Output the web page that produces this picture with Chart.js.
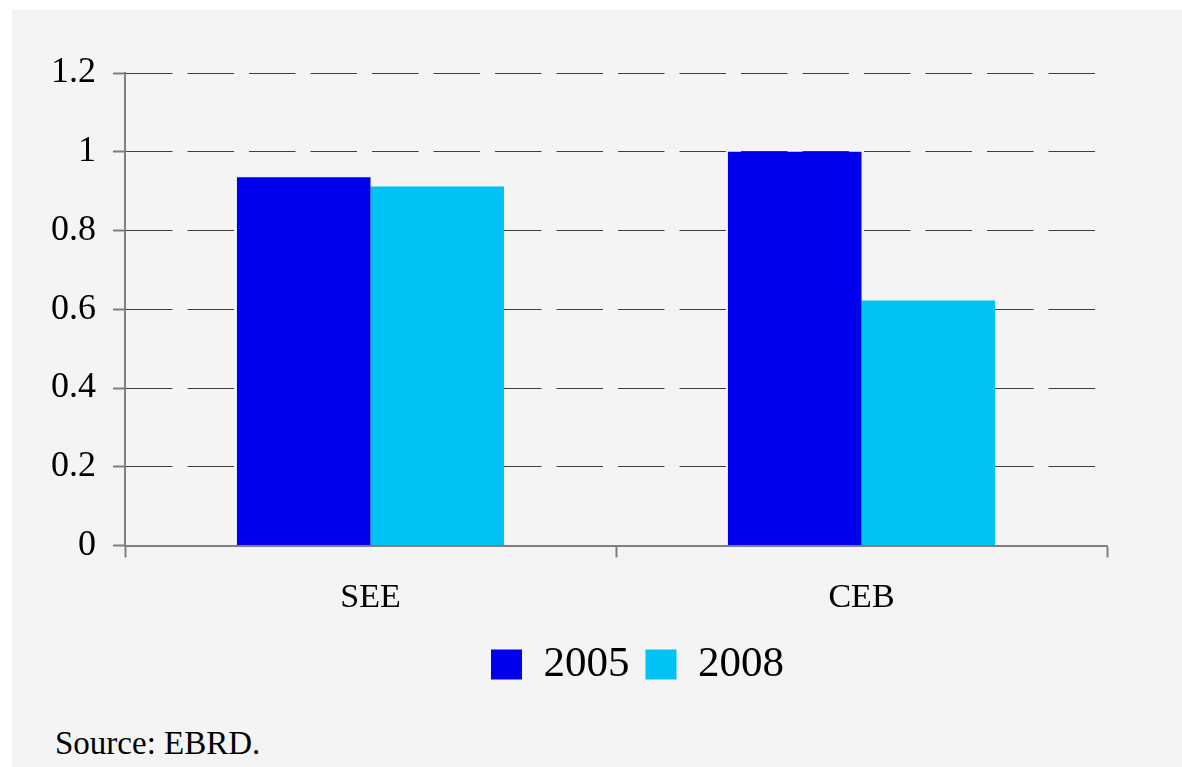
<!DOCTYPE html>
<html>
<head>
<meta charset="utf-8">
<script src="https://cdn.jsdelivr.net/npm/chart.js@4"></script>
<style>
    body { margin: 0; background: #ffffff; }
    .panel { position: absolute; left: 12px; top: 10px; width: 1170px; height: 757px; background: #f4f4f4; }
    .chart-box { position: absolute; left: 0; top: 0; width: 1170px; height: 686px; }
    .source { position: absolute; left: 43px; top: 717px; font: 33px 'Liberation Serif', 'Times New Roman', serif; line-height: 33px; color: #000; }
</style>
</head>
<body>
<div class="panel">
    <div class="chart-box"><canvas id="regionChart"></canvas></div>
    <div class="source">Source: EBRD.</div>
</div>
<script>
const regions = ['SEE', 'CEB']
const values2005 = [0.935, 1.0]
const values2008 = [0.912, 0.622]
const yTickLabels = ['0', '0.2', '0.4', '0.6', '0.8', '1', '1.2']

const serif = "'Liberation Serif', 'Times New Roman', serif"

// move the legend row so it sits under the middle of the plot like the original
const legendShift = {
    id: 'legendShift',
    afterLayout(chart) {
        chart.legend.left += 78
        chart.legend.right += 78
    }
}

const ctx = document.getElementById('regionChart').getContext('2d')
new Chart(ctx, {
    type: 'bar',
    data: {
        labels: regions,
        datasets: [
            { label: '2005', data: values2005, backgroundColor: '#0000ee', borderWidth: 0 },
            { label: '2008', data: values2008, backgroundColor: '#00c2f5', borderWidth: 0 }
        ]
    },
    options: {
        responsive: true,
        maintainAspectRatio: false,
        animation: false,
        categoryPercentage: 0.544,
        barPercentage: 1,
        layout: { padding: { top: 63, right: 75, left: 0, bottom: 0 } },
        plugins: {
            tooltip: { enabled: false },
            legend: {
                position: 'bottom',
                labels: {
                    boxWidth: 31,
                    boxHeight: 30,
                    padding: 16,
                    color: '#000',
                    font: { family: serif, size: 43 }
                }
            }
        },
        scales: {
            x: {
                afterFit: (scale) => { scale.height = 81.5 },
                grid: {
                    drawOnChartArea: false,
                    tickLength: 12,
                    tickColor: '#7f7f7f',
                    tickWidth: 2
                },
                border: { color: '#7f7f7f', width: 2 },
                ticks: { color: '#000', padding: 20, font: { family: serif, size: 34 } }
            },
            y: {
                min: 0,
                max: 1.2,
                afterFit: (scale) => { scale.width = 113 },
                grid: {
                    color: '#3f3f3f',
                    lineWidth: 1,
                    tickLength: 12,
                    tickColor: '#7f7f7f',
                    tickWidth: 2,
                    tickBorderDash: []
                },
                border: { color: '#7f7f7f', width: 2, dash: [46.5, 15] },
                ticks: {
                    stepSize: 0.2,
                    color: '#000',
                    padding: 17,
                    font: { family: serif, size: 36 },
                    callback: (value, index) => yTickLabels[index]
                }
            }
        }
    },
    plugins: [legendShift]
})
</script>
</body>
</html>
